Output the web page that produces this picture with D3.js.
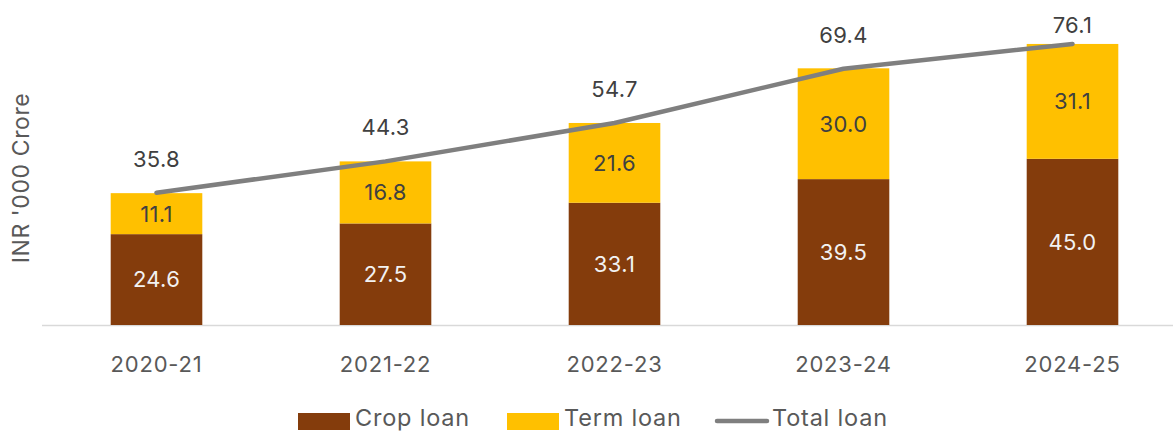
<!DOCTYPE html>
<html><head><meta charset="utf-8">
<script src="https://cdn.jsdelivr.net/npm/d3@7"></script>
<style>html,body{margin:0;padding:0;background:#fff;overflow:hidden}</style>
</head><body><svg id="c" width="1173" height="431"></svg>
<script>
const categories = ["2020-21","2021-22","2022-23","2023-24","2024-25"];
const cropLoan = [24.6, 27.5, 33.1, 39.5, 45.0];
const termLoan = [11.1, 16.8, 21.6, 30.0, 31.1];
const totalLoan = [35.8, 44.3, 54.7, 69.4, 76.1];
const seriesNames = ["Crop loan","Term loan","Total loan"];

const FONT = "Inter, 'Open Sans', sans-serif";
const svg = d3.select("#c");
const x = d3.scaleBand().domain(categories).range([42, 1187]).paddingInner(0.6).paddingOuter(0.3);
const y = d3.scaleLinear().domain([0, 88]).range([325, 0]);

// baseline axis
svg.append("line").attr("x1",42).attr("x2",1173).attr("y1",y(0)+0.5).attr("y2",y(0)+0.5)
  .attr("stroke","#d9d9d9").attr("stroke-width",1.5);

const rows = categories.map((c,i)=>({c, crop:cropLoan[i], term:termLoan[i], total:totalLoan[i]}));
const bw = x.bandwidth();

svg.selectAll("rect.crop").data(rows).join("rect")
  .attr("x", d=>x(d.c)).attr("width", bw)
  .attr("y", d=>y(d.crop)).attr("height", d=>y(0)-y(d.crop)).attr("fill","#843c0c");
svg.selectAll("rect.term").data(rows).join("rect")
  .attr("x", d=>x(d.c)).attr("width", bw)
  .attr("y", d=>y(d.crop+d.term)).attr("height", d=>y(d.crop)-y(d.crop+d.term)).attr("fill","#ffc000");

// segment labels
svg.selectAll("text.cl").data(rows).join("text")
  .attr("x", d=>x(d.c)+bw/2).attr("y", d=>(y(0)+y(d.crop))/2).attr("dy","0.36em")
  .attr("text-anchor","middle").attr("font-family",FONT).attr("font-size",22).attr("letter-spacing",0.3)
  .attr("fill","#f2f2f2").text(d=>d.crop.toFixed(1));
svg.selectAll("text.tl").data(rows).join("text")
  .attr("x", d=>x(d.c)+bw/2).attr("y", d=>(y(d.crop)+y(d.crop+d.term))/2).attr("dy","0.36em")
  .attr("text-anchor","middle").attr("font-family",FONT).attr("font-size",22).attr("letter-spacing",0.3)
  .attr("fill","#404040").text(d=>d.term.toFixed(1));

// total line
const line = d3.line().x(d=>x(d.c)+bw/2).y(d=>y(d.total));
svg.append("path").datum(rows).attr("d", line).attr("fill","none")
  .attr("stroke","#7f7f7f").attr("stroke-width",4.5).attr("stroke-linecap","round").attr("stroke-linejoin","round");

svg.selectAll("text.tot").data(rows).join("text")
  .attr("x", d=>x(d.c)+bw/2).attr("y", d=>Math.max(y(d.total)-26, 33))
  .attr("text-anchor","middle").attr("font-family",FONT).attr("font-size",22).attr("letter-spacing",0.3)
  .attr("fill","#404040").text(d=>d.total.toFixed(1));

// x axis labels
const xAxis = d3.axisBottom(x).tickSize(0).tickPadding(0);
const gx = svg.append("g").attr("transform","translate(0,356)").call(xAxis);
gx.select(".domain").remove();
gx.selectAll("text").attr("font-family",FONT).attr("font-size",22).attr("letter-spacing",0.8)
  .attr("fill","#595959").attr("dy","0.71em");

// y title
svg.append("text").attr("transform","translate(29,178) rotate(-90)")
  .attr("text-anchor","middle").attr("font-family",FONT).attr("font-size",23).attr("letter-spacing",0.6)
  .attr("fill","#595959").text("INR '000 Crore");

// legend
const lg = svg.append("g").attr("font-family",FONT).attr("font-size",23.5).attr("letter-spacing",0.8).attr("fill","#595959");
const items = [{n:seriesNames[0], x:298, t:"rect", col:"#843c0c"},
               {n:seriesNames[1], x:507, t:"rect", col:"#ffc000"},
               {n:seriesNames[2], x:715, t:"line", col:"#7f7f7f"}];
items.forEach(it=>{
  if(it.t==="rect") lg.append("rect").attr("x",it.x).attr("y",413).attr("width",52).attr("height",17).attr("fill",it.col);
  else lg.append("line").attr("x1",it.x+2).attr("x2",it.x+52).attr("y1",421).attr("y2",421).attr("stroke",it.col).attr("stroke-width",4.5).attr("stroke-linecap","round");
  lg.append("text").attr("x",it.x+57).attr("y",426).text(it.n);
});
</script></body></html>
